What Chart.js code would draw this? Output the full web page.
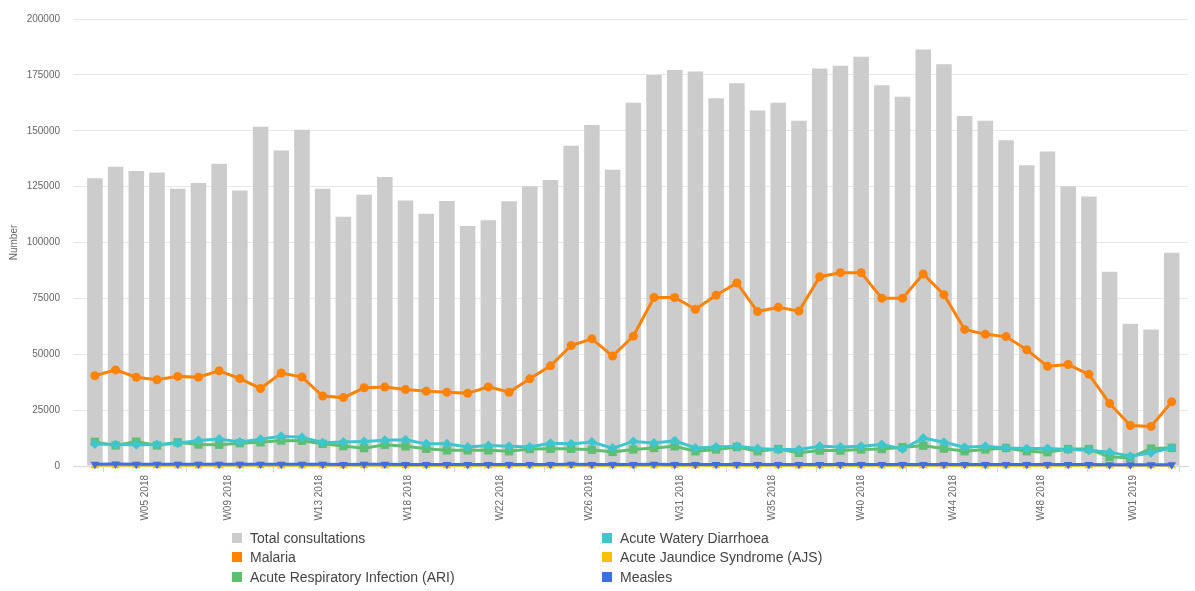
<!DOCTYPE html>
<html>
<head>
<meta charset="utf-8">
<script src="https://cdn.jsdelivr.net/npm/chart.js@4/dist/chart.umd.min.js"></script>
<style>
  body { margin: 0; background: #fff; }
  #wrap { position: relative; width: 1195px; height: 591px; }
  #legend {
    position: absolute; left: 232px; top: 528px;
    display: grid; grid-auto-flow: column;
    grid-template-columns: 370px auto; grid-template-rows: repeat(3, 19.5px);
    font: 14px "Liberation Sans", Arial, sans-serif; color: #444;
  }
  #legend div { display: flex; align-items: center; white-space: nowrap; }
  #legend span { display: inline-block; width: 10px; height: 10px; margin-right: 8px; }
</style>
</head>
<body>
<div id="wrap">
  <canvas id="chart" width="1195" height="591"></canvas>
  <div id="legend"></div>
</div>
<script>
// semaines epidemiologiques (une barre par semaine)
const weeks = [
  'W03 2018','W04 2018','W05 2018','W06 2018','W07 2018','W08 2018','W09 2018','W10 2018','W11 2018','W12 2018',
  'W13 2018','W14 2018','W15 2018','W16 2018','W17 2018','W18 2018','W19 2018','W20 2018','W21 2018','W22 2018',
  'W23 2018','W24 2018','W25 2018','W26 2018','W27 2018','W28 2018','W29 2018','W30 2018','W31 2018','W32 2018',
  'W33 2018','W34 2018','W35 2018','W36 2018','W37 2018','W38 2018','W39 2018','W40 2018','W41 2018','W42 2018',
  'W43 2018','W44 2018','W45 2018','W46 2018','W47 2018','W48 2018','W49 2018','W50 2018','W51 2018','W52 2018',
  'W01 2019','W02 2019','W03 2019'
];

const totalConsultations = [
  128800, 133900, 132000, 131300, 124100, 126600, 135200, 123300, 151800, 141200,
  150400, 124100, 111500, 121400, 129300, 118800, 112900, 118600, 107400, 110000,
  118500, 125200, 128000, 143300, 152600, 132500, 162500, 175000, 177200, 176500,
  164500, 171200, 159100, 162500, 154500, 177800, 179100, 183100, 170400, 165200,
  186300, 179700, 156600, 154500, 145800, 134600, 140700, 125200, 120600, 86900,
  63600, 61100, 95400
];

const malaria = [
  40400, 43000, 39700, 38600, 40100, 39700, 42600, 39100, 34700, 41600,
  39800, 31300, 30600, 35000, 35300, 34200, 33500, 33000, 32500, 35400,
  33000, 39000, 44800, 53900, 56900, 49200, 58100, 75400, 75400, 70100,
  76400, 81900, 69100, 71000, 69300, 84700, 86500, 86500, 75100, 75100,
  85900, 76600, 61100, 58900, 57900, 52000, 44600, 45400, 41000, 28000,
  18100, 17700, 28700
];

const ari = [
  10800, 9200, 10900, 9200, 10600, 9600, 9500, 10200, 10600, 11400,
  11300, 9900, 8900, 8000, 9500, 8800, 7700, 7000, 7000, 7000,
  6600, 7600, 7700, 7700, 7300, 6300, 7400, 8100, 8800, 6600,
  7400, 8500, 6600, 7600, 5900, 6900, 6900, 7400, 7600, 8400,
  9100, 7800, 6600, 7400, 8100, 6600, 6200, 7600, 7600, 4000,
  3700, 7800, 8100
];

const awd = [
  9800, 9600, 9500, 9600, 10200, 11400, 12100, 10700, 12000, 13300,
  12900, 10400, 10700, 11000, 11500, 11700, 9900, 9900, 8500, 9200,
  8800, 8500, 10200, 9900, 10700, 8000, 11000, 10300, 11300, 8100,
  8500, 8800, 7800, 7400, 7400, 8800, 8500, 8800, 9600, 7600,
  12500, 10600, 8400, 8800, 8100, 7800, 7800, 7400, 7100, 6200,
  4400, 5900, 8100
];

const ajs = [
  120, 110, 130, 120, 110, 120, 130, 120, 110, 120,
  110, 120, 110, 110, 120, 110, 110, 120, 110, 110,
  120, 110, 110, 120, 110, 110, 120, 130, 120, 110,
  120, 110, 110, 120, 110, 120, 110, 120, 110, 110,
  120, 110, 120, 110, 110, 120, 110, 110, 100, 100,
  100, 110, 110
];

const measles = [
  800, 850, 780, 820, 750, 800, 830, 770, 740, 790,
  760, 730, 700, 740, 760, 720, 700, 680, 660, 700,
  680, 720, 700, 740, 720, 680, 700, 740, 720, 700,
  680, 720, 700, 680, 660, 700, 720, 700, 680, 660,
  700, 680, 660, 640, 660, 640, 620, 640, 620, 560,
  540, 580, 600
];

// graduations de l'axe X : debut de chaque mois
const tickDates = [
  '2018-02-01','2018-03-01','2018-04-01','2018-05-01','2018-06-01','2018-07-01',
  '2018-08-01','2018-09-01','2018-10-01','2018-11-01','2018-12-01','2019-01-01'
];
const tickLabels = [
  'W05 2018','W09 2018','W13 2018','W18 2018','W22 2018','W26 2018',
  'W31 2018','W35 2018','W40 2018','W44 2018','W48 2018','W01 2019'
];

const DAY = 86400000;
const origin = Date.UTC(2018, 0, 1); // lundi de la W01 2018

// position (en jours) du lundi de la semaine
function weekDay(label) {
  const [w, y] = label.split(' ');
  return (parseInt(y) - 2018) * 364 + 7 * (parseInt(w.slice(1)) - 1);
}
function dateDay(s) {
  const [y, m, d] = s.split('-').map(Number);
  return (Date.UTC(y, m - 1, d) - origin) / DAY;
}

const xValues = weeks.map(weekDay);
const tickDays = tickDates.map(dateDay);

const font = '"Liberation Sans", Arial, sans-serif';

const series = [
  { label: 'Total consultations', data: totalConsultations, color: '#cccccc', type: 'bar' },
  { label: 'Malaria', data: malaria, color: '#ff8200', style: 'circle', radius: 4.5 },
  { label: 'Acute Respiratory Infection (ARI)', data: ari, color: '#5cbf72', style: 'rect', radius: 5.9 },
  { label: 'Acute Watery Diarrhoea', data: awd, color: '#3ec6cf', style: 'rectRot', radius: 5 },
  { label: 'Acute Jaundice Syndrome (AJS)', data: ajs, color: '#ffc000', style: 'triangle', radius: 5, width: 2 },
  { label: 'Measles', data: measles, color: '#3e6fe0', style: 'triangle', radius: 5, rotation: 180 }
];

const datasets = series.map((s, i) => {
  if (s.type === 'bar') {
    return {
      type: 'bar', label: s.label, data: s.data,
      backgroundColor: s.color, borderWidth: 0,
      barPercentage: 0.75, categoryPercentage: 1,
      order: series.length
    };
  }
  return {
    type: 'line', label: s.label, data: s.data,
    borderColor: s.color, backgroundColor: s.color,
    borderWidth: s.width || 3, tension: 0, clip: false,
    pointStyle: s.style, pointRadius: s.radius, pointRotation: s.rotation || 0,
    pointBorderWidth: 0,
    order: series.length - i
  };
});

const chart = new Chart(document.getElementById('chart'), {
  type: 'bar',
  data: { labels: xValues, datasets: datasets },
  options: {
    responsive: false,
    animation: false,
    layout: { padding: { top: 13, right: 7, left: 0, bottom: 0 } },
    plugins: { legend: { display: false }, tooltip: { enabled: false } },
    scales: {
      x: {
        type: 'linear',
        offset: false,
        min: 6.6,
        max: 383.5,
        afterBuildTicks: scale => { scale.ticks = tickDays.map(v => ({ value: v })); },
        afterFit: scale => { scale.height = 125; },
        grid: { drawOnChartArea: false, drawTicks: true, tickLength: 6, color: '#ccd6eb' },
        border: { display: true, color: '#ccd6eb' },
        ticks: {
          autoSkip: false, minRotation: 90, maxRotation: 90, padding: 3,
          color: '#666', font: { family: font, size: 10 },
          callback: (v, i) => tickLabels[i]
        }
      },
      y: {
        min: 0,
        max: 200000,
        afterFit: scale => { scale.width = 73; },
        grid: { color: '#e6e6e6', drawTicks: false },
        border: { display: false },
        ticks: {
          stepSize: 25000, padding: 13, color: '#666', font: { family: font, size: 10 },
          callback: v => String(v)
        },
        title: { display: true, text: 'Number', color: '#666', font: { family: font, size: 10 }, padding: { top: 8, bottom: 0 } }
      }
    }
  }
});

// legende en deux colonnes
const legend = document.getElementById('legend');
series.forEach(s => {
  const item = document.createElement('div');
  const box = document.createElement('span');
  box.style.background = s.color;
  item.appendChild(box);
  item.appendChild(document.createTextNode(s.label));
  legend.appendChild(item);
});
</script>
</body>
</html>
